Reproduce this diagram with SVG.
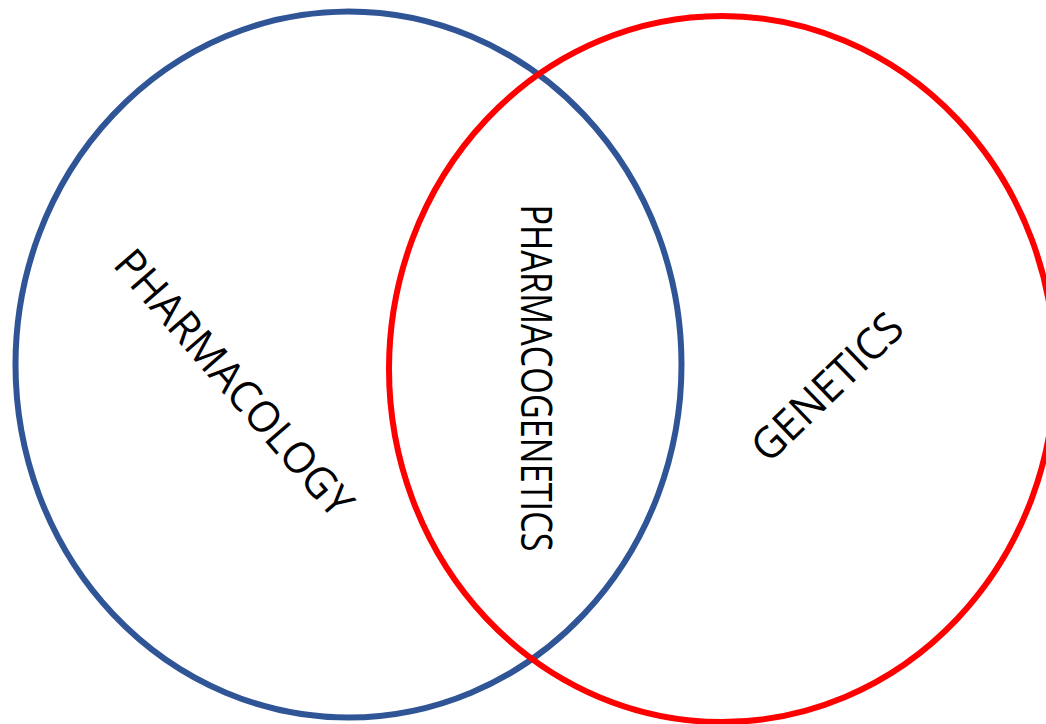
<svg xmlns="http://www.w3.org/2000/svg" width="1046" height="724" viewBox="0 0 1046 724">
<style>
.c{fill:none;stroke-width:6}
.t{font-family:"Open Sans","Liberation Sans",sans-serif;font-size:43px;fill:#000;text-anchor:middle;dominant-baseline:central}
</style>
<rect width="1046" height="724" fill="#fff"/>
<g id="pharmacology-circle"><ellipse class="c" cx="348.500" cy="364.500" rx="333" ry="353" stroke="#2F5597"/></g>
<g id="genetics-circle"><ellipse class="c" cx="722" cy="369" rx="333" ry="353" stroke="#FF0000"/></g>
<g id="label-pharmacology"><text class="t" transform="translate(235,382) rotate(49)" textLength="338" lengthAdjust="spacingAndGlyphs">PHARMACOLOGY</text></g>
<g id="label-pharmacogenetics"><text class="t" transform="translate(537,378) rotate(90)" textLength="347" lengthAdjust="spacingAndGlyphs">PHARMACOGENETICS</text></g>
<g id="label-genetics"><text class="t" transform="translate(826,386) rotate(-44)" textLength="192" lengthAdjust="spacingAndGlyphs">GENETICS</text></g>
</svg>
